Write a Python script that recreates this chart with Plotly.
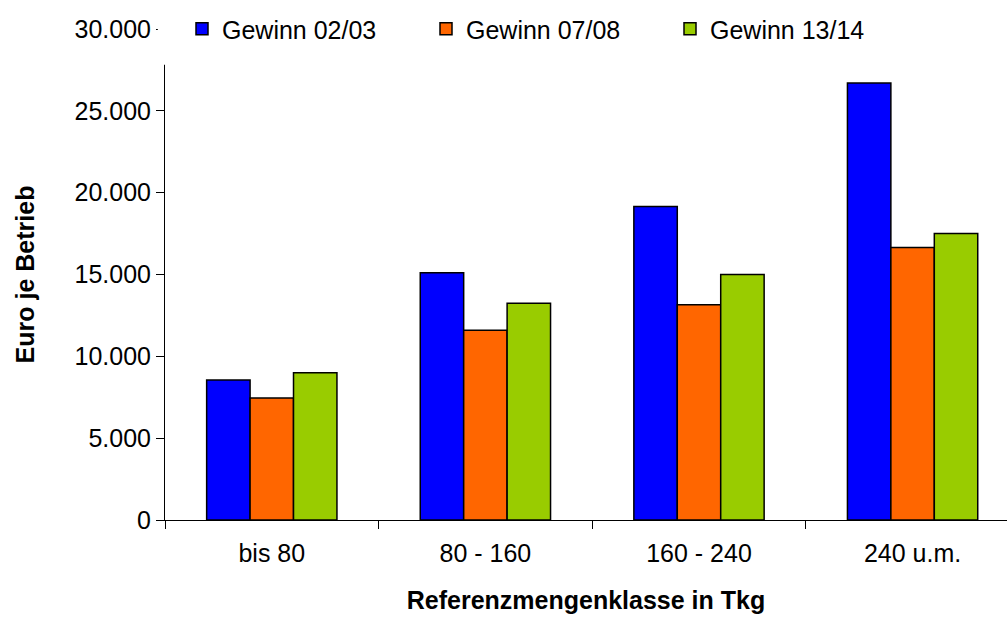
import plotly.graph_objects as go

categories = ["bis 80", "80 - 160", "160 - 240", "240 u.m."]
gewinn_0203 = [8550, 15100, 19150, 26700]
gewinn_0708 = [7450, 11600, 13150, 16650]
gewinn_1314 = [9000, 13250, 15000, 17500]
series_names = ["Gewinn 02/03", "Gewinn 07/08", "Gewinn 13/14"]
series_colors = ["#0000FF", "#FF6600", "#99CC00"]
y_tickvals = [0, 5000, 10000, 15000, 20000, 25000, 30000]

FONT = "Liberation Sans, Arial, sans-serif"
FS = 25

fig = go.Figure()
for name, vals, col in zip(series_names, [gewinn_0203, gewinn_0708, gewinn_1314], series_colors):
    fig.add_trace(go.Bar(
        x=categories, y=vals, name=name,
        marker=dict(color=col, line=dict(color="black", width=1.5)),
    ))

fig.update_layout(
    width=1007, height=619,
    margin=dict(l=165, r=0, t=29, b=99, autoexpand=False),
    paper_bgcolor="white", plot_bgcolor="white",
    barmode="group", bargap=0.39, bargroupgap=0,
    separators=",.",
    font=dict(family=FONT, size=FS, color="black"),
    showlegend=True,
    legend=dict(
        orientation="h", x=0.0, xanchor="left", y=1.0, yanchor="middle",
        bgcolor="white", bordercolor="white", borderwidth=17,
        font=dict(size=FS, family=FONT, color="black"),
        entrywidth=199, entrywidthmode="pixels",
        traceorder="normal",
    ),
    # white legend backdrop (Excel-style legend box hiding the top of the y axis)
    shapes=[dict(
        type="rect", xref="paper", yref="paper",
        x0=-0.0085, x1=0.85, y0=0.927, y1=1.06,
        fillcolor="white", line=dict(width=0), layer="above",
    )],
    xaxis=dict(
        type="category", range=[-0.5, 3.442],
        showline=True, linecolor="black", linewidth=1,
        ticks="outside", tickson="boundaries", ticklen=8, tickcolor="black",
        tickfont=dict(size=FS, family=FONT),
        ticklabelstandoff=11,
        title=dict(text="<b>Referenzmengenklasse in Tkg</b>", font=dict(size=FS, family=FONT), standoff=25),
        showgrid=False, zeroline=False,
    ),
    yaxis=dict(
        range=[0, 30000], tickvals=y_tickvals, tickformat=",.0f",
        showline=True, linecolor="black", linewidth=1,
        ticks="outside", ticklen=8, tickcolor="black",
        tickfont=dict(size=FS, family=FONT),
        title=dict(text="<b>Euro je Betrieb</b>", font=dict(size=FS, family=FONT), standoff=32),
        showgrid=False, zeroline=False,
    ),
)

fig.write_html("out.html")
